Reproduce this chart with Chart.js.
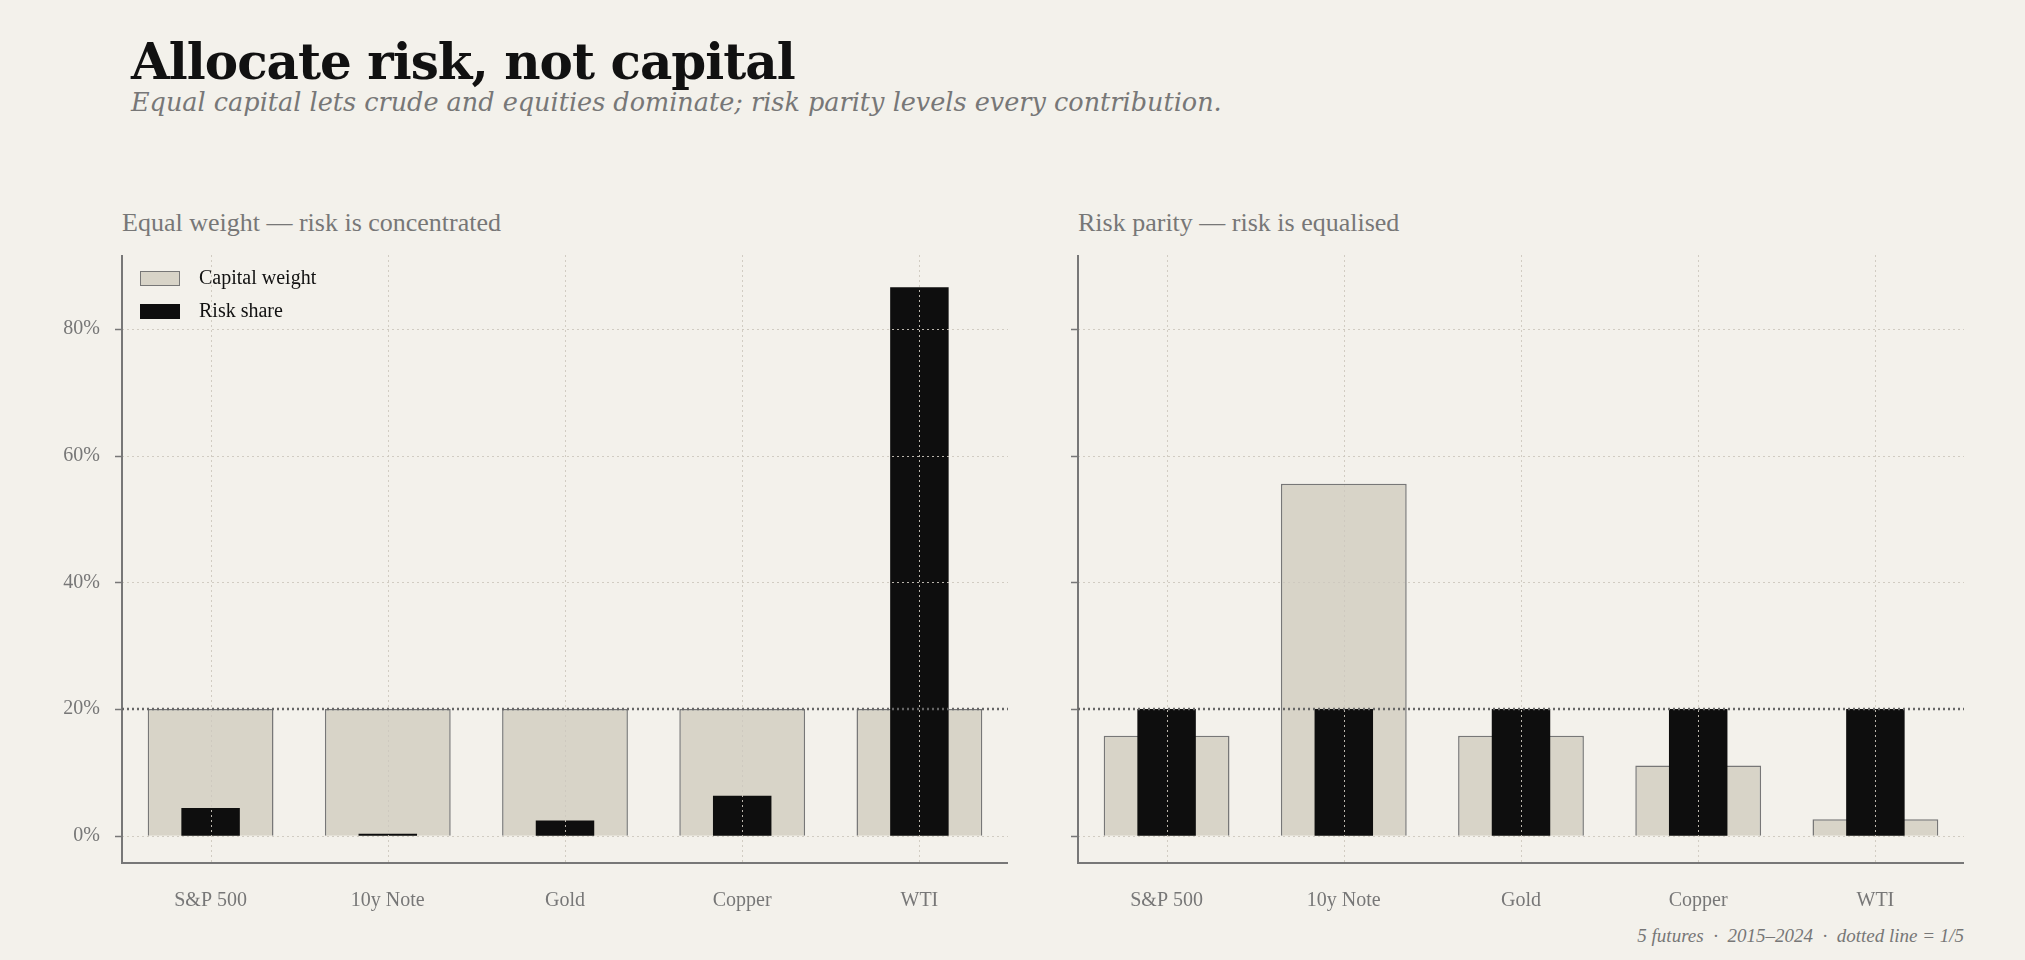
<!DOCTYPE html>
<html><head><meta charset="utf-8">
<script src="https://cdn.jsdelivr.net/npm/chart.js@4"></script>
<style>
body{margin:0;background:#f3f1eb;width:2025px;height:960px;overflow:hidden;font-family:"DejaVu Serif","Liberation Serif",serif;}
.abs{position:absolute}
#title{left:131px;top:32px;font-size:50px;font-weight:bold;color:#111;font-family:"DejaVu Serif",serif;letter-spacing:-1px}
#sub{left:131px;top:87px;font-size:25.5px;font-style:italic;color:#777;font-family:"DejaVu Serif",serif}
.pt{font-size:26px;color:#777;font-family:"Liberation Serif",serif}
#foot{right:61px;top:925px;font-size:19px;font-style:italic;color:#777;font-family:"Liberation Serif",serif}
.leg{font-family:"Liberation Serif",serif;font-size:20px;color:#111;left:140px}
.sw{display:inline-block;width:40px;height:15px;vertical-align:-2px;margin-right:19px;box-sizing:border-box}
</style></head><body>
<div class="abs" id="title">Allocate risk, not capital</div>
<div class="abs" id="sub">Equal capital lets crude and equities dominate; risk parity levels every contribution.</div>
<div class="abs pt" style="left:122px;top:208px">Equal weight — risk is concentrated</div>
<div class="abs pt" style="left:1078px;top:208px">Risk parity — risk is equalised</div>
<canvas id="c1" class="abs" style="left:0;top:229px"></canvas>
<canvas id="c2" class="abs" style="left:1025px;top:229px"></canvas>
<div class="abs leg" style="top:266px"><span class="sw" style="background:#d8d4c8;border:1.5px solid #777"></span>Capital weight</div>
<div class="abs leg" style="top:299px"><span class="sw" style="background:#0e0e0e"></span>Risk share</div>
<div class="abs" id="foot">5 futures &nbsp;·&nbsp; 2015–2024 &nbsp;·&nbsp; dotted line = 1/5</div>
<script>
const categories=["S&P 500","10y Note","Gold","Copper","WTI"];
const eqCapital=[20,20,20,20,20];
const eqRisk=[4.4,0.3,2.4,6.3,86.6];
const rpCapital=[15.8,55.6,15.8,11.1,2.6];
const rpRisk=[20,20,20,20,20];
const yTicks=[0,20,40,60,80];
const parity=20;

const overlay={id:'overlay',afterDatasetsDraw(ch){
  const {ctx,chartArea:a,scales:{x,y}}=ch;
  ctx.save();
  // grid
  ctx.strokeStyle='rgba(205,200,190,0.9)';ctx.lineWidth=1;ctx.setLineDash([2,3]);
  yTicks.forEach(v=>{const py=Math.round(y.getPixelForValue(v))+0.5;ctx.beginPath();ctx.moveTo(a.left,py);ctx.lineTo(a.right,py);ctx.stroke();});
  categories.forEach((c,i)=>{const px=Math.round(x.getPixelForValue(i))+0.5;ctx.beginPath();ctx.moveTo(px,a.top);ctx.lineTo(px,a.bottom);ctx.stroke();});
  // tick marks
  ctx.setLineDash([]);ctx.strokeStyle='#777';ctx.lineWidth=1.5;
  yTicks.forEach(v=>{const py=Math.round(y.getPixelForValue(v))+0.5;ctx.beginPath();ctx.moveTo(a.left-7,py);ctx.lineTo(a.left,py);ctx.stroke();});
  // axes
  ctx.lineWidth=2;ctx.beginPath();ctx.moveTo(a.left,a.top);ctx.lineTo(a.left,a.bottom);ctx.lineTo(a.right,a.bottom);ctx.stroke();
  // parity line
  const py=y.getPixelForValue(parity);
  ctx.strokeStyle='#666';ctx.lineWidth=2.5;ctx.setLineDash([2,3]);
  ctx.beginPath();ctx.moveTo(a.left,py);ctx.lineTo(a.right,py);ctx.stroke();ctx.restore();}};

function make(id,cap,risk,w,yw,showLabels){
  const cv=document.getElementById(id);cv.width=w;cv.height=688;cv.style.width=w+'px';cv.style.height='688px';
  new Chart(cv,{type:'bar',
    data:{labels:categories,datasets:[
      {label:'Risk share',data:risk,backgroundColor:'#0e0e0e',borderWidth:0,barPercentage:0.33,categoryPercentage:1,grouped:false,order:0},
      {label:'Capital weight',data:cap,backgroundColor:'#d8d4c8',borderColor:'#777',borderWidth:1.5,barPercentage:0.71,categoryPercentage:1,grouped:false,order:1}]},
    options:{responsive:false,animation:false,devicePixelRatio:1,
      layout:{padding:{top:10,right:12,left:0,bottom:0}},
      plugins:{legend:{display:false},tooltip:{enabled:false}},
      scales:{
        x:{grid:{display:false},border:{display:false},
          ticks:{color:'#777',font:{family:'Liberation Serif',size:20},padding:18},
          afterFit(s){s.height=54;}},
        y:{min:-4.3,max:91.7,grid:{display:false},border:{display:false},
          afterBuildTicks(s){s.ticks=yTicks.map(v=>({value:v}));},
          ticks:{display:true,color:showLabels?'#777':'rgba(0,0,0,0)',font:{family:'Liberation Serif',size:20},padding:14,callback:v=>v+'%'},
          afterFit(s){s.width=yw;}}}},
    plugins:[overlay]});
}
make('c1',eqCapital,eqRisk,1020,122,true);
make('c2',rpCapital,rpRisk,951,53,false);
</script></body></html>
